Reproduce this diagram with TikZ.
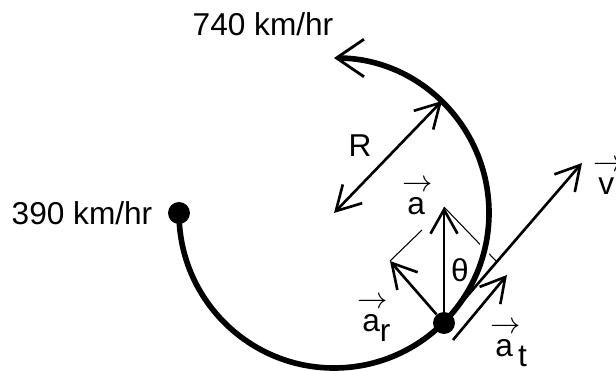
\documentclass[tikz,border=0pt]{standalone}
\usepackage{fontspec}
\setmainfont{Liberation Sans}
\usetikzlibrary{arrows.meta}
\newcommand{\vecl}[2]{\begin{tabular}[b]{@{}l@{}}\makebox[0pt][l]{\hspace{-0.15em}$\rightarrow$}\\[-8pt]#1\raisebox{-0.2cm}{#2}\end{tabular}}

\begin{document}
\begin{tikzpicture}[
  x=0.02cm,y=0.02cm,
  font=\fontsize{18}{21.6}\selectfont,
  >={Straight Barb[length=0.48cm, width=0.54cm]},
  track/.style={line width=3.2pt,
    -{Straight Barb[length=0.55cm, width=0.75cm, line width=1.6pt]},
    preaction={draw=white, line width=0.22cm}},
  vec/.style={line width=1.5pt, ->},
  guide/.style={line width=0.6pt},
  dot/.style={circle, fill, inner sep=0pt, minimum size=0.44cm},
  lbl/.style={inner sep=0pt},
  vlbl/.style={inner sep=0pt, anchor=base west}
]
\useasboundingbox (0,0) rectangle (616,-371);
\coordinate (s) at (179,-213);
\coordinate (ctr) at (334,-213);
\coordinate (rim) at (442,-101);
\coordinate (atip) at (444,-207);
\coordinate (artip) at (390,-261);
\coordinate (vtip) at (582,-163);
\coordinate (at0) at (453,-340);
\coordinate (at1) at (507,-275);
\coordinate (proj) at (497,-262);
\coordinate (mid) at (422,-230);

% component guides
\draw[guide] (artip) -- (mid);
\draw[guide] (atip) -- (proj);

% flight path
\draw[track] (s) arc[start angle=180, end angle=450, radius=155];
\node[dot] (start) at (s) {};
\node[dot] (plane) at (444,-323) {};

\draw[vec, <->] (ctr) -- (rim);
\draw[vec] (plane) -- (atip);
\draw[vec] (plane) -- (artip);
\draw[vec] (plane) -- (vtip);
\draw[vec] (at0) -- (at1);

\node[lbl] (vtop) at (263,-24) {740 km/hr};
\node[lbl] (vleft) at (82,-213) {390 km/hr};
\node[lbl] (rlab) at (360,-146) {R};
\node[lbl] (theta) at (460,-270) {θ};
\node[vlbl] (alab) at (407,-215) {\vecl{a}{}};
\node[vlbl] (arlab) at (362,-332) {\vecl{a}{r}};
\node[vlbl] (atlab) at (495,-357) {\vecl{a}{\,t}};
\node[vlbl] (vlab) at (598,-195) {\vecl{v}{}};
\end{tikzpicture}
\end{document}
